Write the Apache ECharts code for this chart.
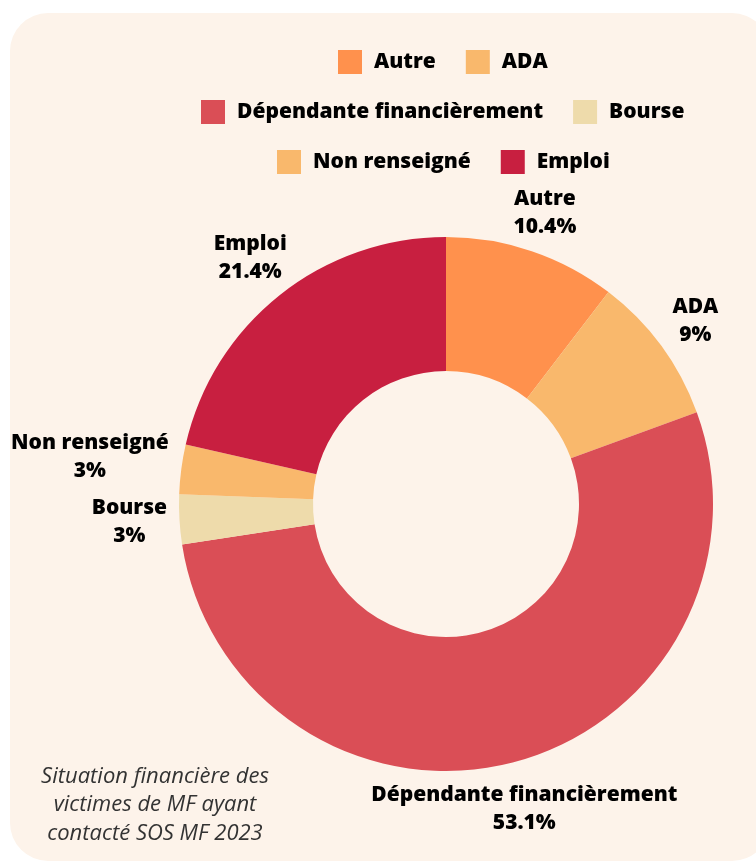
<!DOCTYPE html>
<html>
<head>
<meta charset="utf-8">
<script src="https://cdn.jsdelivr.net/npm/echarts@6/dist/echarts.min.js"></script>
<style>
  html, body { margin: 0; padding: 0; background: #ffffff; }
  #chart { width: 756px; height: 863px; }
</style>
</head>
<body>
<div id="chart"></div>
<script>
const categories = ['Autre', 'ADA', 'Dépendante financièrement', 'Bourse', 'Non renseigné', 'Emploi'];
const values = [10.4, 9, 53.1, 3, 3, 21.4];
const colors = ['#FF914D', '#F9B86C', '#DA4E56', '#EEDBAB', '#F9B86C', '#C81F40'];
const legendRows = [['Autre', 'ADA'], ['Dépendante financièrement', 'Bourse'], ['Non renseigné', 'Emploi']];
const caption = 'Situation financière des\nvictimes de MF ayant\ncontacté SOS MF 2023';

const FONT = '"Open Sans", "Noto Sans", sans-serif';
const FW = 800, FS = 21;
const CX = 446, CY = 504, R_IN = 133, R_OUT = 267, GAP = 11;
const LEG_CX = 443, ICON = 24, ITEM_GAP = 30, TXT_PAD = 7;
const total = values.reduce((a, b) => a + b, 0);
const midAngles = [];
{
  let acc = 0;
  values.forEach(v => { midAngles.push((acc + v / 2) / total * 2 * Math.PI); acc += v; });
}

const ctx = document.createElement('canvas').getContext('2d');
ctx.font = FW + ' ' + FS + 'px ' + FONT;
function rowWidth(row) {
  let w = 0;
  row.forEach((name, i) => {
    w += ICON + 5 + TXT_PAD + ctx.measureText(name).width;
    if (i > 0) w += ITEM_GAP;
  });
  return w;
}

const chart = echarts.init(document.getElementById('chart'), null, { renderer: 'canvas' });

const legends = legendRows.map((row, i) => ({
  data: row,
  top: 45 + i * 50,
  left: Math.round(LEG_CX - rowWidth(row) / 2 - 5),
  orient: 'horizontal',
  itemWidth: ICON,
  itemHeight: ICON,
  itemGap: ITEM_GAP,
  icon: 'rect',
  selectedMode: false,
  textStyle: { fontFamily: FONT, fontWeight: FW, fontSize: FS, color: '#000', padding: [0, 0, 0, TXT_PAD] }
}));

chart.setOption({
  backgroundColor: 'transparent',
  animation: false,
  graphic: [
    { type: 'rect', z: -10, shape: { x: 10, y: 13, width: 760, height: 848, r: 38 }, style: { fill: '#FDF3EA' } },
    { type: 'text', x: 155, y: 762, style: { text: caption, font: 'italic 22px ' + FONT, fill: '#333', align: 'center', verticalAlign: 'top', lineHeight: 28.5 } }
  ],
  legend: legends,
  series: [{
    type: 'pie',
    center: [CX, CY],
    radius: [R_IN, R_OUT],
    startAngle: 90,
    clockwise: true,
    avoidLabelOverlap: false,
    data: categories.map((c, i) => ({ name: c, value: values[i], itemStyle: { color: colors[i] } })),
    label: {
      show: true,
      position: 'outside',
      formatter: '{b}\n{c}%',
      fontFamily: FONT,
      fontWeight: FW,
      fontSize: FS,
      lineHeight: 28,
      color: '#000',
      align: 'center'
    },
    labelLine: { show: false },
    emphasis: { disabled: true },
    labelLayout: function (p) {
      const a = midAngles[p.dataIndex];
      const s = Math.sin(a), c = Math.cos(a);
      const w = p.labelRect.width, h = p.labelRect.height;
      const d = R_OUT + GAP + (w / 2) * s * s + (h / 2) * Math.abs(c);
      return { x: CX + d * s, y: CY - d * c, align: 'center', verticalAlign: 'middle' };
    }
  }]
});
</script>
</body>
</html>
